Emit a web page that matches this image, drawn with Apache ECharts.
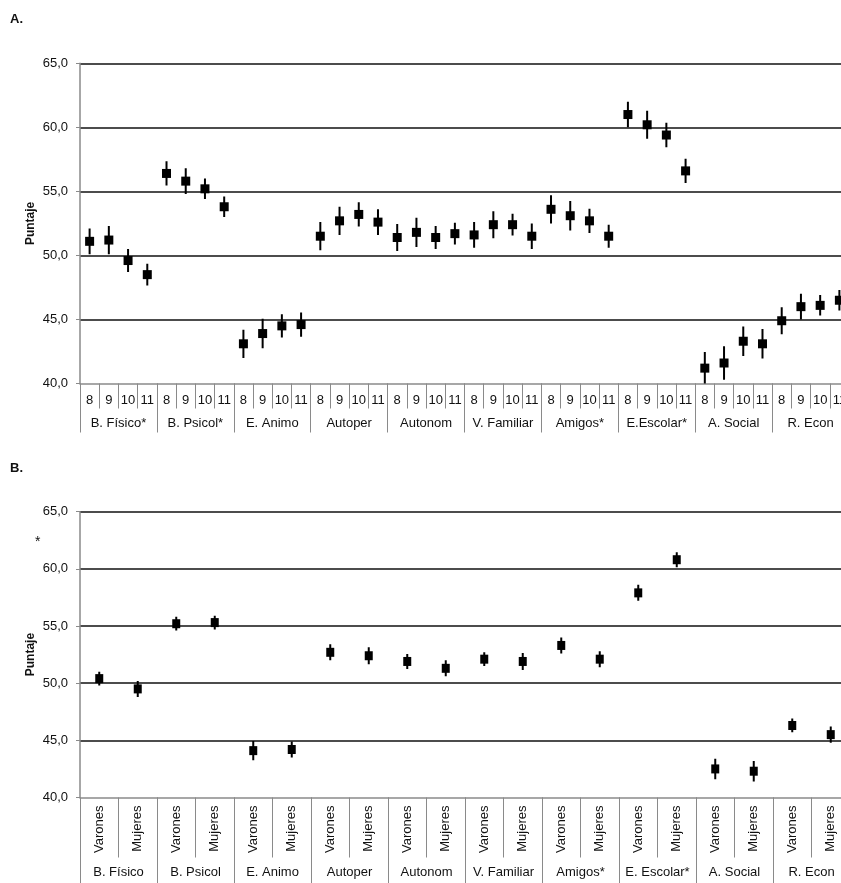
<!DOCTYPE html>
<html>
<head>
<meta charset="utf-8">
<script src="https://cdn.jsdelivr.net/npm/echarts@6/dist/echarts.min.js"></script>
<style>
html,body{margin:0;padding:0;background:#fff;overflow:hidden;}
#c{width:870px;height:883px;}
</style>
</head>
<body>
<div id="c"></div>
<script>
// ---- Data (panel A: by age) ----
var groupsA = ['B. Físico*','B. Psicol*','E. Animo','Autoper','Autonom','V. Familiar','Amigos*','E.Escolar*','A. Social','R. Econ'];
var ages = ['8','9','10','11'];
var meansA = [51.1,51.2,49.6,48.5, 56.4,55.8,55.2,53.8, 43.1,43.9,44.5,44.6, 51.5,52.7,53.2,52.6,
              51.4,51.8,51.4,51.7, 51.6,52.4,52.4,51.5, 53.6,53.1,52.7,51.5, 61.0,60.2,59.4,56.6,
              41.2,41.6,43.3,43.1, 44.9,46.0,46.1,46.5];
var errA = [1.0,1.1,0.9,0.85, 0.95,1.0,0.8,0.8, 1.1,1.15,0.9,0.95, 1.1,1.1,0.95,1.0,
            1.05,1.15,0.9,0.85, 1.0,1.05,0.85,1.0, 1.1,1.15,0.95,0.9, 1.0,1.1,0.95,0.95,
            1.25,1.3,1.15,1.15, 1.05,1.0,0.8,0.8];

// ---- Data (panel B: by sex) ----
var groupsB = ['B. Físico','B. Psicol','E. Animo','Autoper','Autonom','V. Familiar','Amigos*','E. Escolar*','A. Social','R. Econ'];
var sexes = ['Varones','Mujeres'];
var meansB = [50.4,49.5, 55.2,55.3, 44.1,44.2, 52.7,52.4, 51.9,51.3, 52.1,51.9, 53.3,52.1, 57.9,60.8, 42.5,42.3, 46.3,45.5];
var errB = [0.6,0.7, 0.6,0.6, 0.85,0.7, 0.7,0.75, 0.65,0.7, 0.6,0.75, 0.7,0.7, 0.7,0.65, 0.9,0.9, 0.6,0.7];

var yTicks = {min:40, max:65, interval:5};

var catsA = [];
groupsA.forEach(function(){ ages.forEach(function(a){ catsA.push(a); }); });
var catsB = [];
groupsB.forEach(function(){ sexes.forEach(function(s){ catsB.push(s); }); });

var FONT = "'Liberation Sans', Arial, sans-serif";
var GRAY = '#8a8a8a';

function yAxisFor(gi){
  return {
    type:'value', gridIndex:gi, min:yTicks.min, max:yTicks.max, interval:yTicks.interval,
    name:'Puntaje', nameLocation:'middle', nameGap:43, nameMoveOverlap:false,
    nameTextStyle:{fontFamily:FONT, fontSize:12, fontWeight:'bold', color:'#111'},
    axisLine:{show:true, lineStyle:{color:GRAY, width:1.5}},
    axisTick:{show:true, length:4, lineStyle:{color:GRAY, width:1}},
    axisLabel:{fontFamily:FONT, fontSize:13, color:'#111', margin:12,
      formatter:function(v){ return v.toFixed(1).replace('.', ','); }},
    splitLine:{show:true, showMinLine:false, lineStyle:{color:'#111', width:1.5}}
  };
}

function errSeries(xi, yi, means, errs){
  return {
    type:'custom', xAxisIndex:xi, yAxisIndex:yi, clip:true, z:3,
    data: means.map(function(v,i){ return [i, v-errs[i], v+errs[i]]; }),
    renderItem:function(params, api){
      var x = api.value(0);
      var lo = api.coord([x, api.value(1)]);
      var hi = api.coord([x, api.value(2)]);
      return {type:'line', shape:{x1:lo[0], y1:lo[1], x2:hi[0], y2:hi[1]},
              style:{stroke:'#000', lineWidth:2, opacity:1}};
    }
  };
}

function meanSeries(xi, yi, means, size){
  return {
    type:'scatter', xAxisIndex:xi, yAxisIndex:yi, z:4,
    symbol:'rect', symbolSize:size,
    itemStyle:{color:'#000', opacity:1},
    emphasis:{disabled:true},
    data: means.map(function(v,i){ return [i, v]; })
  };
}

var chart = echarts.init(document.getElementById('c'), null, {renderer:'canvas'});
chart.setOption({
  animation:false,
  backgroundColor:'#fff',
  textStyle:{fontFamily:FONT},
  graphic:[
    {type:'text', left:10, top:13, style:{text:'A.', font:"bold 13px "+FONT, fill:'#111'}},
    {type:'text', left:10, top:462, style:{text:'B.', font:"bold 13px "+FONT, fill:'#111'}},
    {type:'text', left:35, top:535, style:{text:'*', font:"14px "+FONT, fill:'#111'}}
  ],
  grid:[
    {left:80, top:63.3, width:769, height:320.2, containLabel:false},
    {left:80, top:511.7, width:770, height:285.8, containLabel:false}
  ],
  xAxis:[
    {type:'category', gridIndex:0, data:catsA, position:'bottom',
     axisLine:{show:true, lineStyle:{color:GRAY, width:1.5}},
     axisTick:{show:true, interval:0, length:25, lineStyle:{color:GRAY, width:1}},
     axisLabel:{interval:0, margin:10, fontFamily:FONT, fontSize:13, color:'#111'},
     splitLine:{show:false}},
    {type:'category', gridIndex:0, data:groupsA, position:'bottom',
     axisLine:{show:false},
     axisTick:{show:true, interval:0, length:49, lineStyle:{color:GRAY, width:1}},
     axisLabel:{interval:0, margin:33, fontFamily:FONT, fontSize:13, color:'#111'},
     splitLine:{show:false}},
    {type:'category', gridIndex:1, data:catsB, position:'bottom',
     axisLine:{show:true, lineStyle:{color:GRAY, width:1.5}},
     axisTick:{show:true, interval:0, length:60, lineStyle:{color:GRAY, width:1}},
     axisLabel:{interval:0, rotate:90, margin:8, fontFamily:FONT, fontSize:13, color:'#111'},
     splitLine:{show:false}},
    {type:'category', gridIndex:1, data:groupsB, position:'bottom',
     axisLine:{show:false},
     axisTick:{show:true, interval:0, length:86, lineStyle:{color:GRAY, width:1}},
     axisLabel:{interval:0, margin:68, fontFamily:FONT, fontSize:13, color:'#111'},
     splitLine:{show:false}}
  ],
  yAxis:[ yAxisFor(0), yAxisFor(1) ],
  series:[
    errSeries(0, 0, meansA, errA),
    meanSeries(0, 0, meansA, 9),
    errSeries(2, 1, meansB, errB),
    meanSeries(2, 1, meansB, [8,9])
  ]
});
</script>
</body>
</html>
